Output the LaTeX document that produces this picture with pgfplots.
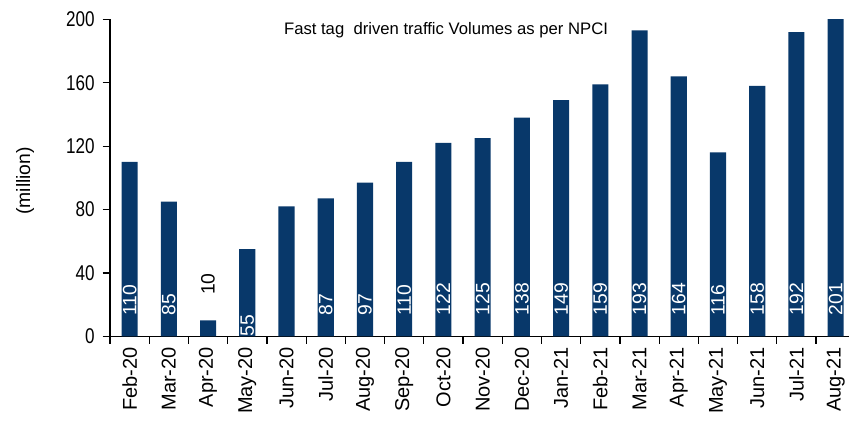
\documentclass[border=0pt]{standalone}
\usepackage{pgfplots}
\pgfplotsset{compat=1.18}
\usepackage{fontspec}
\setmainfont{Liberation Sans}
\newfontfamily\narrow[FakeStretch=0.8]{Liberation Sans}
\definecolor{barblue}{RGB}{8,56,106}
\begin{document}
\begin{tikzpicture}
\begin{axis}[
  scale only axis, width=554.25pt, height=237.75pt,
  anchor=south west, at={(0pt,0pt)},
  xmin=-0.5, xmax=18.34, ymin=0, ymax=200,
  axis x line*=bottom, axis y line*=left,
  axis line style={line width=0.9pt, black},
  tick align=outside,
  major tick length=5.5pt,
  tick style={line width=0.9pt, black},
  ytick={0,40,80,120,160,200},
  yticklabel style={font=\narrow\fontsize{16}{16}\selectfont, xshift=-2.5pt, /pgf/number format/assume math mode=true},
  xtick={-0.5,0.5,...,18.5},
  xticklabels={},
  extra x ticks={0,1,...,18},
  extra x tick labels={Feb-20,Mar-20,Apr-20,May-20,Jun-20,Jul-20,Aug-20,Sep-20,Oct-20,Nov-20,Dec-20,Jan-21,Feb-21,Mar-21,Apr-21,May-21,Jun-21,Jul-21,Aug-21},
  extra x tick style={major tick length=0pt, tick label style={rotate=90, anchor=east, inner sep=0pt, font=\fontsize{15}{15}\selectfont}},
  xticklabel shift=8pt,
  ylabel={(million)},
  every axis y label/.style={at={(rel axis cs:0,0.49)}, xshift=-63.75pt, rotate=90, anchor=center, font=\fontsize{14.5}{14.5}\selectfont},
]
\addplot[ybar, bar width=0.41, fill=barblue, draw=none] coordinates {
  (0,110) (1,85) (2,10) (3,55) (4,82) (5,87) (6,97) (7,110) (8,122) (9,125)
  (10,138) (11,149) (12,159) (13,193) (14,164) (15,116) (16,158) (17,192) (18,201)
};
\addplot[draw=none, nodes near coords, point meta=explicit symbolic,
  every node near coord/.append style={rotate=90, anchor=west, inner sep=0pt, text=white, font=\fontsize{14.5}{14.5}\selectfont}] coordinates {
  (0,13)[110] (1,13)[85] (3,0)[55] (5,13)[87] (6,13)[97] (7,13)[110] (8,13)[122] (9,13)[125]
  (10,13)[138] (11,13)[149] (12,13)[159] (13,13)[193] (14,13)[164] (15,13)[116] (16,13)[158] (17,13)[192] (18,13)[201]
};
\addplot[draw=none, nodes near coords, point meta=explicit symbolic,
  every node near coord/.append style={rotate=90, anchor=west, inner sep=0pt, text=black, font=\fontsize{14.5}{14.5}\selectfont}] coordinates {
  (2,26)[10]
};
\node[font=\fontsize{12.5}{12.5}\selectfont, anchor=center] at (rel axis cs:0.4547,0.965) {Fast tag\ \ driven traffic Volumes as per NPCI};
\end{axis}
\pgfresetboundingbox
\path (-82.5pt,-63pt) rectangle (554.25pt,252.25pt);
\end{tikzpicture}
\end{document}
